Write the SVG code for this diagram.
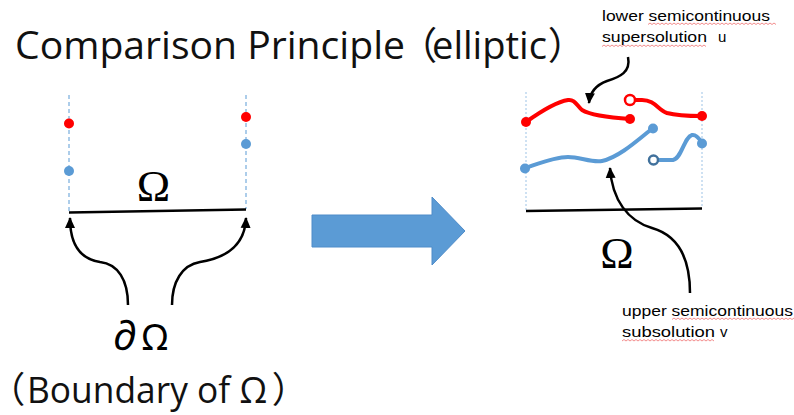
<svg xmlns="http://www.w3.org/2000/svg" width="794" height="415" viewBox="0 0 794 415">
<style>
.title{font-family:"Open Sans","Noto Sans CJK JP",sans-serif;font-weight:400;fill:#111}
.par{font-family:"Noto Sans CJK JP",sans-serif;font-feature-settings:"palt" 1}
.sym{font-family:"Noto Sans","Open Sans",sans-serif;font-weight:400;fill:#000}
.omega{font-family:"Liberation Serif","DejaVu Serif",serif;fill:#000}
.lbl{font-family:"Liberation Sans","Noto Sans CJK JP",sans-serif;font-size:15px;fill:#000}
.dash{stroke:#5B9BD5;stroke-width:1;stroke-dasharray:4 3;fill:none}
.dashl{stroke:#9DC3E6;stroke-width:1;stroke-dasharray:2 2;fill:none}
.axis{stroke:#000;stroke-width:2.5;fill:none}
.conn{stroke:#000;stroke-width:2.5;fill:none}
.red{stroke:#FF0000;stroke-width:4;fill:none;stroke-linecap:round;stroke-linejoin:round}
.blue{stroke:#5B9BD5;stroke-width:4;fill:none;stroke-linecap:round;stroke-linejoin:round}
.wavy{stroke:#F07070;stroke-width:0.8;fill:none}
</style>
<defs>
<marker id="ah" markerUnits="userSpaceOnUse" markerWidth="12" markerHeight="12" viewBox="0 0 12 12" refX="10" refY="6" orient="auto">
<path d="M0,1 L11,6 L0,11 Z" fill="#000"/>
</marker>
</defs>

<g id="title">
<text class="title" font-size="38"><tspan x="15" y="59" textLength="390" lengthAdjust="spacingAndGlyphs">Comparison Principle</tspan><tspan class="par" x="417" y="59">（</tspan><tspan x="432" y="59" textLength="115" lengthAdjust="spacingAndGlyphs">elliptic</tspan><tspan class="par" x="549" y="59">）</tspan></text>
</g>

<g id="left-domain">
<line class="dash" x1="69" y1="95" x2="69" y2="212"/>
<line class="dash" x1="246" y1="95" x2="246" y2="209"/>
<line class="axis" x1="69" y1="212.5" x2="246" y2="209.5"/>
<circle cx="69" cy="123.5" r="5" fill="#FF0000"/>
<circle cx="69" cy="171" r="5" fill="#5B9BD5"/>
<circle cx="246" cy="117" r="5" fill="#FF0000"/>
<circle cx="246" cy="144" r="5" fill="#5B9BD5"/>
<text class="omega" x="153.5" y="201" font-size="45" text-anchor="middle">Ω</text>
</g>

<g id="boundary-label">
<text class="sym" font-size="36"><tspan x="113" y="350" font-size="42">∂</tspan><tspan x="142" y="350">Ω</tspan></text>
<text class="title" font-size="36"><tspan class="par" x="6" y="403">（</tspan><tspan x="27" y="403" textLength="240" lengthAdjust="spacingAndGlyphs">Boundary of Ω</tspan><tspan class="par" x="273" y="403">）</tspan></text>
</g>

<g id="big-arrow">
<path d="M312,215 L432,215 L432,197 L465,231 L432,265 L432,247 L312,247 Z" fill="#5B9BD5" stroke="#4F8CC9" stroke-width="1"/>
</g>

<g id="right-domain">
<line class="dashl" x1="526" y1="92" x2="526" y2="211"/>
<line class="dashl" x1="702" y1="92" x2="702" y2="208"/>
<line class="axis" x1="526" y1="211" x2="702" y2="208.5"/>
<text class="omega" x="617" y="268" font-size="45" text-anchor="middle">Ω</text>
</g>

<g id="supersolution-u">
<path class="red" d="M526,122 C540,112 555,102 568,100 C575,99 577,106 582,110 C592,116 615,118 630,119"/>
<circle cx="526" cy="122" r="5" fill="#FF0000"/>
<circle cx="630" cy="119" r="5" fill="#FF0000"/>
<path class="red" d="M635,100 L642,100 C655,100 658,110 667,113 C678,116 692,116 702,116"/>
<circle cx="630" cy="100" r="5" fill="#fff" stroke="#FF0000" stroke-width="2.5"/>
<circle cx="702" cy="116" r="5" fill="#FF0000"/>
</g>

<g id="subsolution-v">
<path class="blue" d="M525,168 C540,163 555,157 568,157 C580,157 592,163 602,161 C620,157 640,138 653,128"/>
<circle cx="525" cy="168.5" r="5" fill="#5B9BD5"/>
<circle cx="653" cy="128.5" r="5" fill="#5B9BD5"/>
<path class="blue" d="M658,160 L673,160 C682,158 684,137 692,135 C697,134 700,140 702,143"/>
<circle cx="653.5" cy="160" r="4.5" fill="#fff" stroke="#41719C" stroke-width="2.5"/>
<circle cx="702" cy="143.5" r="5" fill="#5B9BD5"/>
</g>

<g id="label-u">
<text class="lbl" x="602" y="21" textLength="168" lengthAdjust="spacingAndGlyphs">lower semicontinuous</text>
<text class="lbl" x="602" y="42" textLength="105" lengthAdjust="spacingAndGlyphs">supersolution</text>
<text class="lbl" x="718" y="42">u</text>
<path class="wavy" d="M648,24.5 l2,-1.5 l2,1.5 l2,-1.5 l2,1.5 l2,-1.5 l2,1.5 l2,-1.5 l2,1.5 l2,-1.5 l2,1.5 l2,-1.5 l2,1.5 l2,-1.5 l2,1.5 l2,-1.5 l2,1.5 l2,-1.5 l2,1.5 l2,-1.5 l2,1.5 l2,-1.5 l2,1.5 l2,-1.5 l2,1.5 l2,-1.5 l2,1.5 l2,-1.5 l2,1.5 l2,-1.5 l2,1.5 l2,-1.5 l2,1.5 l2,-1.5 l2,1.5 l2,-1.5 l2,1.5 l2,-1.5 l2,1.5 l2,-1.5 l2,1.5 l2,-1.5 l2,1.5 l2,-1.5 l2,1.5 l2,-1.5 l2,1.5 l2,-1.5 l2,1.5 l2,-1.5 l2,1.5 l2,-1.5 l2,1.5 l2,-1.5 l2,1.5 l2,-1.5 l2,1.5 l2,-1.5 l2,1.5 l2,-1.5 l2,1.5 l2,-1.5 l2,1.5 l2,-1.5 l2,1.5"/>
<path class="wavy" d="M602,46.5 l2,-1.5 l2,1.5 l2,-1.5 l2,1.5 l2,-1.5 l2,1.5 l2,-1.5 l2,1.5 l2,-1.5 l2,1.5 l2,-1.5 l2,1.5 l2,-1.5 l2,1.5 l2,-1.5 l2,1.5 l2,-1.5 l2,1.5 l2,-1.5 l2,1.5 l2,-1.5 l2,1.5 l2,-1.5 l2,1.5 l2,-1.5 l2,1.5 l2,-1.5 l2,1.5 l2,-1.5 l2,1.5 l2,-1.5 l2,1.5 l2,-1.5 l2,1.5 l2,-1.5 l2,1.5 l2,-1.5 l2,1.5 l2,-1.5 l2,1.5 l2,-1.5 l2,1.5 l2,-1.5 l2,1.5 l2,-1.5 l2,1.5 l2,-1.5 l2,1.5 l2,-1.5 l2,1.5 l2,-1.5 l2,1.5"/>
</g>

<g id="label-v">
<text class="lbl" x="622" y="316" textLength="171" lengthAdjust="spacingAndGlyphs">upper semicontinuous</text>
<text class="lbl" x="622" y="337" textLength="93" lengthAdjust="spacingAndGlyphs">subsolution</text>
<text class="lbl" x="720" y="337" fill="#444">v</text>
<path class="wavy" d="M672,319.5 l2,-1.5 l2,1.5 l2,-1.5 l2,1.5 l2,-1.5 l2,1.5 l2,-1.5 l2,1.5 l2,-1.5 l2,1.5 l2,-1.5 l2,1.5 l2,-1.5 l2,1.5 l2,-1.5 l2,1.5 l2,-1.5 l2,1.5 l2,-1.5 l2,1.5 l2,-1.5 l2,1.5 l2,-1.5 l2,1.5 l2,-1.5 l2,1.5 l2,-1.5 l2,1.5 l2,-1.5 l2,1.5 l2,-1.5 l2,1.5 l2,-1.5 l2,1.5 l2,-1.5 l2,1.5 l2,-1.5 l2,1.5 l2,-1.5 l2,1.5 l2,-1.5 l2,1.5 l2,-1.5 l2,1.5 l2,-1.5 l2,1.5 l2,-1.5 l2,1.5 l2,-1.5 l2,1.5 l2,-1.5 l2,1.5 l2,-1.5 l2,1.5 l2,-1.5 l2,1.5 l2,-1.5 l2,1.5 l2,-1.5 l2,1.5 l2,-1.5 l2,1.5 l2,-1.5 l2,1.5"/>
<path class="wavy" d="M622,341 l2,-1.5 l2,1.5 l2,-1.5 l2,1.5 l2,-1.5 l2,1.5 l2,-1.5 l2,1.5 l2,-1.5 l2,1.5 l2,-1.5 l2,1.5 l2,-1.5 l2,1.5 l2,-1.5 l2,1.5 l2,-1.5 l2,1.5 l2,-1.5 l2,1.5 l2,-1.5 l2,1.5 l2,-1.5 l2,1.5 l2,-1.5 l2,1.5 l2,-1.5 l2,1.5 l2,-1.5 l2,1.5 l2,-1.5 l2,1.5 l2,-1.5 l2,1.5 l2,-1.5 l2,1.5 l2,-1.5 l2,1.5 l2,-1.5 l2,1.5 l2,-1.5 l2,1.5 l2,-1.5 l2,1.5 l2,-1.5 l2,1.5"/>
</g>

<g id="connectors">
<path class="conn" d="M128,305 C128,280 118,264 100,262 C80,259 70,245 70,218" marker-end="url(#ah)"/>
<path class="conn" d="M172,305 C172,282 182,265 200,262 C225,258 245,246 246,218" marker-end="url(#ah)"/>
<path class="conn" d="M628,57 C631,72 620,77 607,81 C596,85 590,92 589,103" marker-end="url(#ah)"/>
<path class="conn" d="M690,293 C690,260 680,236 652,228 C628,221 612,200 610,168" marker-end="url(#ah)"/>
</g>
</svg>
